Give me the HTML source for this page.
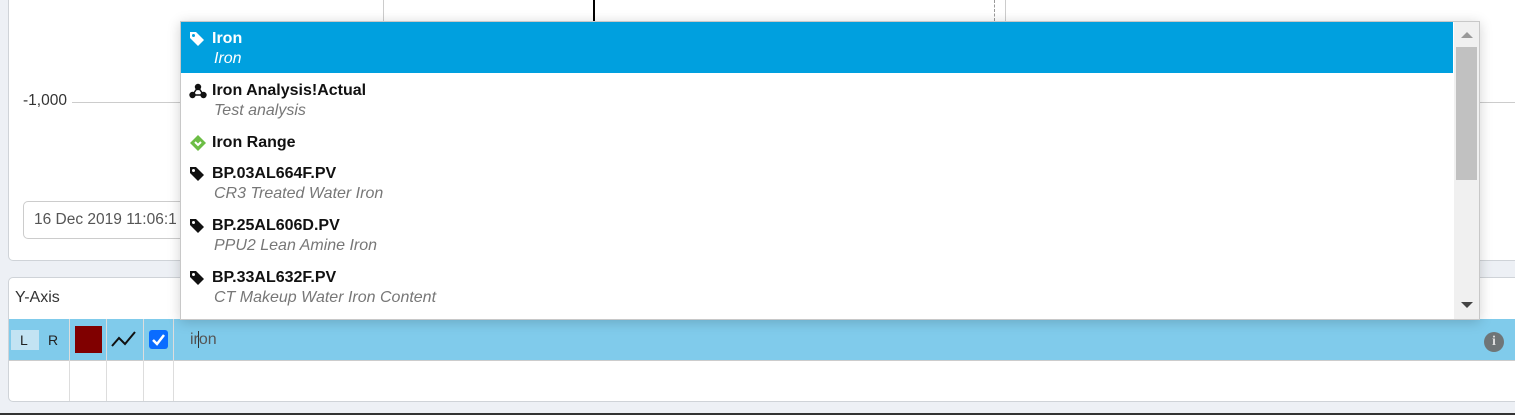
<!DOCTYPE html>
<html><head><style>
body{margin:0;width:1515px;height:415px;background:#edf0f5;position:relative;overflow:hidden;font-family:"Liberation Sans",sans-serif}
.a{position:absolute}
.it{position:absolute;left:212px;font-size:16px;white-space:nowrap}
.t{font-weight:bold;color:#111}
.s{font-style:italic;color:#777;left:214px}
</style></head><body>
<div class="a" style="left:8px;top:-5px;width:1520px;height:264px;background:#fff;border:1px solid #cfd3d8;border-radius:5px"></div>
<div class="a" style="left:383px;top:0;width:1px;height:22px;background:#ccc"></div>
<div class="a" style="left:593px;top:0;width:2px;height:21px;background:#000"></div>
<div class="a" style="left:1005px;top:0;width:1px;height:22px;background:#ccc"></div>
<div class="a" style="left:994px;top:0;width:0;height:21px;border-left:1px dashed #999"></div>
<div class="a" style="left:23px;top:92px;font-size:15.5px;color:#333">-1,000</div>
<div class="a" style="left:72px;top:102px;width:110px;height:1px;background:#ccc"></div>
<div class="a" style="left:1479px;top:102px;width:40px;height:1px;background:#ccc"></div>
<div class="a" style="left:23px;top:201px;width:170px;height:36px;border:1px solid #ccc;border-radius:5px;background:#fff"></div>
<div class="a" style="left:34px;top:211px;font-size:15.5px;color:#555;white-space:nowrap">16 Dec 2019 11:06:1</div>
<div class="a" style="left:8px;top:277px;width:1520px;height:123px;background:#fff;border:1px solid #cfd3d8;border-radius:5px"></div>
<div class="a" style="left:15px;top:289px;font-size:16px;color:#333">Y-Axis</div>
<div class="a" style="left:9px;top:319px;width:1506px;height:41px;background:#80cbeb;border-bottom:1px solid #ccc"></div>
<div class="a" style="left:69px;top:319px;width:1px;height:82px;background:#ddd"></div>
<div class="a" style="left:106px;top:319px;width:1px;height:82px;background:#ddd"></div>
<div class="a" style="left:143px;top:319px;width:1px;height:82px;background:#ddd"></div>
<div class="a" style="left:173px;top:319px;width:1px;height:82px;background:#ddd"></div>
<div class="a" style="left:11px;top:330px;width:28px;height:20px;background:#c3e3f3"></div>
<div class="a" style="left:20px;top:332px;font-size:14px;color:#222">L</div>
<div class="a" style="left:48px;top:332px;font-size:14px;color:#222">R</div>
<div class="a" style="left:75px;top:326px;width:27px;height:27px;background:#800000"></div>
<svg class="a" style="left:110px;top:328px" width="28" height="22"><polyline points="2,18 9,10 15,16 25,4" fill="none" stroke="#111" stroke-width="2"/></svg>
<div class="a" style="left:149px;top:330px;width:19px;height:19px;background:#0a6cff;border-radius:3px"></div>
<svg class="a" style="left:149px;top:330px" width="19" height="19"><polyline points="4,10 8,14 15,5" fill="none" stroke="#fff" stroke-width="2.5"/></svg>
<div class="a" style="left:190px;top:331px;font-size:16px;color:#555">ir<span style="border-left:1px solid #333;margin-left:-1px"></span>on</div>
<div class="a" style="left:1484px;top:332px;width:20px;height:20px;border-radius:50%;background:#6f7577;color:#ddd;font-weight:bold;font-size:14px;text-align:center;line-height:20px;font-family:'Liberation Serif',serif">i</div>
<div class="a" style="left:0;top:413px;width:1515px;height:2px;background:#333"></div>
<div class="a" style="left:180px;top:21px;width:1298px;height:297px;background:#fff;border:1px solid #c8c8c8;box-shadow:0 2px 12px rgba(0,0,0,.18)"></div>
<div class="a" style="left:181px;top:22px;width:1272px;height:51px;background:#00a0df"></div>
<div class="a" style="left:1454px;top:22px;width:25px;height:297px;background:#f0f0f0"></div>
<div class="a" style="left:1456px;top:47px;width:21px;height:133px;background:#c1c1c1"></div>
<div class="a" style="left:1461px;top:32px;width:0;height:0;border-left:6px solid transparent;border-right:6px solid transparent;border-bottom:6px solid #999"></div>
<div class="a" style="left:1461px;top:302px;width:0;height:0;border-left:6px solid transparent;border-right:6px solid transparent;border-top:6px solid #444"></div>
<svg class="a" style="left:189px;top:31px" width="16" height="16"><path d="M1 1h6l8 8-6 6-8-8z" fill="#fff"/><circle cx="4.5" cy="4.5" r="1.5" fill="#00a0df"/></svg>
<div class="it t" style="top:30px;color:#fff">Iron</div>
<div class="it s" style="top:50px;color:#fff">Iron</div>
<svg class="a" style="left:189px;top:83px" width="18" height="16"><circle cx="9" cy="4" r="3.2" fill="#111"/><circle cx="3.5" cy="12" r="3.2" fill="#111"/><circle cx="14.5" cy="12" r="3.2" fill="#111"/><path d="M9 4L3.5 12H14.5Z" fill="none" stroke="#111" stroke-width="1.5"/></svg>
<div class="it t" style="top:82px">Iron Analysis!Actual</div>
<div class="it s" style="top:102px">Test analysis</div>
<svg class="a" style="left:189px;top:134px" width="18" height="18"><path d="M9 1L17 9 9 17 1 9Z" fill="#6cbd45"/><path d="M6 8l3 3 3-3" fill="none" stroke="#fff" stroke-width="2"/></svg>
<div class="it t" style="top:134px">Iron Range</div>
<svg class="a" style="left:189px;top:166px" width="16" height="16"><path d="M1 1h6l8 8-6 6-8-8z" fill="#111"/><circle cx="4.5" cy="4.5" r="1.5" fill="#fff"/></svg>
<div class="it t" style="top:165px">BP.03AL664F.PV</div>
<div class="it s" style="top:185px">CR3 Treated Water Iron</div>
<svg class="a" style="left:189px;top:218px" width="16" height="16"><path d="M1 1h6l8 8-6 6-8-8z" fill="#111"/><circle cx="4.5" cy="4.5" r="1.5" fill="#fff"/></svg>
<div class="it t" style="top:217px">BP.25AL606D.PV</div>
<div class="it s" style="top:237px">PPU2 Lean Amine Iron</div>
<svg class="a" style="left:189px;top:270px" width="16" height="16"><path d="M1 1h6l8 8-6 6-8-8z" fill="#111"/><circle cx="4.5" cy="4.5" r="1.5" fill="#fff"/></svg>
<div class="it t" style="top:269px">BP.33AL632F.PV</div>
<div class="it s" style="top:289px">CT Makeup Water Iron Content</div>
</body></html>
